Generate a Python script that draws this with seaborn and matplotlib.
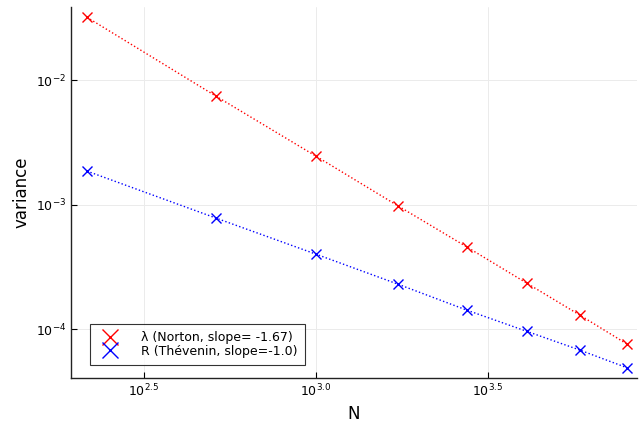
import numpy as np
import pandas as pd
import seaborn as sns
import matplotlib
matplotlib.use('Agg')
import matplotlib.pyplot as plt
import matplotlib.ticker as ticker
from matplotlib.lines import Line2D

N = [216, 512, 1000, 1728, 2744, 4096, 5832, 8000]
var_norton = [0.032, 0.00744, 0.00245, 0.00098, 0.000457, 0.000234, 0.000130, 7.6e-5]
var_thevenin = [0.00186, 0.00078, 0.00040, 0.00023, 0.000142, 9.6e-5, 6.8e-5, 4.9e-5]
label_norton = 'λ (Norton, slope= -1.67)'
label_thevenin = 'R (Thévenin, slope=-1.0)'

sns.set_theme(style='white')
plt.rcParams['font.family'] = ['DejaVu Sans']
plt.rcParams['mathtext.fontset'] = 'dejavusans'
plt.rcParams['text.color'] = 'black'
plt.rcParams['axes.labelcolor'] = 'black'

df = pd.DataFrame({'N': N * 2,
                   'variance': var_norton + var_thevenin,
                   'series': [label_norton] * len(N) + [label_thevenin] * len(N)})

fig = plt.figure(figsize=(6.39, 4.23), dpi=100)
ax = fig.add_axes([0.111, 0.106, 0.886, 0.877])

handles = []
for lab, col in [(label_norton, 'red'), (label_thevenin, 'blue')]:
    d = df[df['series'] == lab]
    sns.lineplot(data=d, x='N', y='variance', ax=ax, color=col, linestyle=':',
                 linewidth=1.0, marker='x', markersize=7, markeredgewidth=1.0,
                 markeredgecolor=col, legend=False)
    handles.append(Line2D([], [], linestyle='', marker='x', color=col,
                          markersize=11, markeredgewidth=1.0, label=lab))

ax.set_xscale('log')
ax.set_yscale('log')
ax.set_xlim(10 ** 2.288, 10 ** 3.933)
ax.set_ylim(10 ** -4.394, 10 ** -1.414)

ax.xaxis.set_major_locator(ticker.FixedLocator([10 ** 2.5, 10 ** 3.0, 10 ** 3.5]))
ax.xaxis.set_major_formatter(ticker.FixedFormatter([r'$10^{2.5}$', r'$10^{3.0}$', r'$10^{3.5}$']))
ax.xaxis.set_minor_locator(ticker.NullLocator())
ax.yaxis.set_major_locator(ticker.FixedLocator([1e-4, 1e-3, 1e-2]))
ax.yaxis.set_major_formatter(ticker.FixedFormatter([r'$10^{-4}$', r'$10^{-3}$', r'$10^{-2}$']))
ax.yaxis.set_minor_locator(ticker.NullLocator())

ax.grid(True, color='#ebebeb', linewidth=0.7)
ax.tick_params(direction='in', length=4, width=0.8, colors='black', labelsize=9,
               bottom=True, left=True)
for s in ['top', 'right']:
    ax.spines[s].set_visible(False)
for s in ['left', 'bottom']:
    ax.spines[s].set_color('#222222')
    ax.spines[s].set_linewidth(1.0)

ax.set_xlabel('N', fontsize=12)
ax.set_ylabel('variance', fontsize=12)

leg = ax.legend(handles=handles, loc='lower left', bbox_to_anchor=(0.034, 0.035),
                fontsize=9, frameon=True, fancybox=False, handlelength=2.0,
                handletextpad=1.5, borderpad=0.6, borderaxespad=0.0,
                labelspacing=0.05)
leg.get_frame().set_edgecolor('black')
leg.get_frame().set_linewidth(0.8)

fig.savefig('out.png', dpi=100)
